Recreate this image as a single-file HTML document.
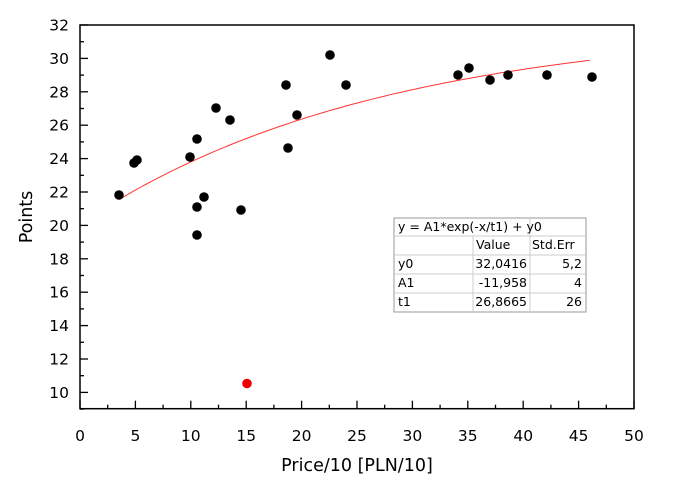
<!DOCTYPE html>
<html><head><style>body{margin:0;background:#fff}svg{display:block}text{font-family:"DejaVu Sans","Liberation Sans",sans-serif}</style></head><body>
<svg width="680" height="477" xmlns="http://www.w3.org/2000/svg">
<rect width="680" height="477" fill="#fff"/>
<g stroke="#000" stroke-width="1.5" fill="none">
<rect x="80" y="25" width="554" height="383.7"/>
</g>
<g id="ticks" stroke="#000" stroke-width="1.3"></g>
<g id="labels" font-size="15.5" fill="#000"></g>
<text x="357" y="471" font-size="17.5" text-anchor="middle">Price/10 [PLN/10]</text>
<text transform="translate(32,217) rotate(-90)" font-size="17.5" text-anchor="middle">Points</text>
<polyline id="curve" fill="none" stroke="#f33" stroke-width="1"/>
<g id="pts" fill="#000"></g>
<circle cx="247" cy="383.5" r="4.8" fill="#e00"/>
<g font-family="Liberation Sans" font-size="12.5" fill="#000">
<rect x="394" y="218" width="192" height="94" fill="#fff" stroke="#999" stroke-width="1"/>
<g stroke="#ccc" stroke-width="1">
<line x1="394" y1="236" x2="586" y2="236"/><line x1="394" y1="255" x2="586" y2="255"/>
<line x1="394" y1="274" x2="586" y2="274"/><line x1="394" y1="293" x2="586" y2="293"/>
<line x1="473" y1="236" x2="473" y2="312"/><line x1="530" y1="218" x2="530" y2="312"/>
</g>
<text x="398" y="231">y = A1*exp(-x/t1) + y0</text>
<text x="476" y="249">Value</text><text x="532" y="249">Std.Err</text>
<text x="398" y="268">y0</text><text x="527" y="268" text-anchor="end">32,0416</text><text x="582" y="268" text-anchor="end">5,2</text>
<text x="398" y="287">A1</text><text x="527" y="287" text-anchor="end">-11,958</text><text x="582" y="287" text-anchor="end">4</text>
<text x="398" y="306">t1</text><text x="527" y="306" text-anchor="end">26,8665</text><text x="582" y="306" text-anchor="end">26</text>
</g>
<script>
const ns="http://www.w3.org/2000/svg";
const X=x=>80+x*11.08, Y=y=>25+(32-y)*16.7;
const t=document.getElementById('ticks'),l=document.getElementById('labels');
function ln(a,b,c,d){const e=document.createElementNS(ns,'line');e.setAttribute('x1',a);e.setAttribute('y1',b);e.setAttribute('x2',c);e.setAttribute('y2',d);t.appendChild(e);}
function tx(x,y,s,a){const e=document.createElementNS(ns,'text');e.setAttribute('x',x);e.setAttribute('y',y);e.setAttribute('text-anchor',a);e.textContent=s;l.appendChild(e);}
for(let v=0;v<=50;v+=2.5){const x=X(v);const maj=v%5==0;ln(x,408.7,x,408.7-(maj?8:4));if(maj)tx(x,441,v,'middle');}
for(let v=9;v<=32;v++){const y=Y(v);const maj=v%2==0;ln(80,y,80+(maj?8:4),y);if(maj)tx(69,y+5.5,v,'end');}
let p=[];for(let x=3.5;x<=46.01;x+=0.5){p.push(X(x).toFixed(1)+','+Y(32.0416-11.958*Math.exp(-x/26.8665)).toFixed(1));}
document.getElementById('curve').setAttribute('points',p.join(' '));
const pts=[[119,195],[134,163],[137,160],[190,157],[197,139],[197,207],[197,235],[204,197],[216,108],[230,120],[241,210],[286,85],[288,148],[297,115],[330,55],[346,85],[458,75],[469,68],[490,80],[508,75],[547,75],[592,77]];
const g=document.getElementById('pts');
for(const [x,y] of pts){const c=document.createElementNS(ns,'circle');c.setAttribute('cx',x);c.setAttribute('cy',y);c.setAttribute('r',4.8);g.appendChild(c);}
</script>
</svg>
</body></html>
